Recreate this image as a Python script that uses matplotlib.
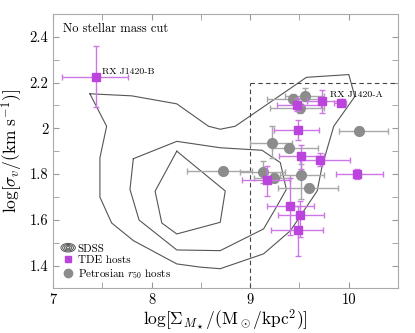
import numpy as np
import matplotlib
matplotlib.use("Agg")
import matplotlib.pyplot as plt
from matplotlib.legend_handler import HandlerBase
from matplotlib.patches import Ellipse
from matplotlib.lines import Line2D

plt.rcParams['font.family'] = 'serif'
plt.rcParams['font.serif'] = ['cmr10', 'DejaVu Serif']
plt.rcParams['mathtext.fontset'] = 'cm'
plt.rcParams['axes.unicode_minus'] = False
plt.rcParams['axes.formatter.use_mathtext'] = True

# SDSS contours (traced levels), log Sigma vs log sigma
outer_x = [7.373, 7.798, 8.255, 8.577, 8.696, 8.848, 9.571, 10.001, 10.062, 9.848, 9.730, 9.680,
           9.408, 9.136, 8.696, 8.492, 8.255, 7.814, 7.594, 7.475, 7.475, 7.543, 7.373]
outer_y = [2.151, 2.142, 2.107, 2.009, 1.996, 2.009, 2.223, 2.235, 2.139, 2.009, 1.835, 1.726,
           1.552, 1.451, 1.386, 1.393, 1.407, 1.509, 1.586, 1.699, 1.871, 2.009, 2.151]
mid_x = [7.814, 8.255, 8.696, 9.120, 9.306, 9.367, 9.273, 9.136, 8.696, 8.255, 7.872, 7.780, 7.814]
mid_y = [1.867, 1.943, 1.915, 1.904, 1.850, 1.733, 1.661, 1.560, 1.465, 1.468, 1.599, 1.733, 1.867]
inner_x = [8.255, 8.747, 8.696, 8.255, 8.103, 8.035, 8.255]
inner_y = [1.900, 1.726, 1.589, 1.538, 1.586, 1.725, 1.900]

# TDE hosts
tde_x = [7.44, 9.917, 9.73, 9.476, 9.482, 9.52, 9.706, 10.086, 9.171, 9.408, 9.51, 9.482]
tde_y = [2.226, 2.112, 2.12, 2.104, 1.991, 1.878, 1.86, 1.799, 1.773, 1.661, 1.62, 1.555]
tde_xlo = [0.345, 0.07, 0.15, 0.20, 0.244, 0.231, 0.196, 0.22, 0.254, 0.237, 0.231, 0.271]
tde_xhi = [0.322, 0.06, 0.20, 0.24, 0.214, 0.227, 0.308, 0.265, 0.237, 0.237, 0.244, 0.259]
tde_ylo = [0.133, 0.01, 0.055, 0.03, 0.04, 0.058, 0.024, 0.022, 0.069, 0.128, 0.097, 0.112]
tde_yhi = [0.134, 0.01, 0.047, 0.03, 0.047, 0.051, 0.03, 0.024, 0.062, 0.123, 0.063, 0.106]

# Petrosian r50 hosts
pet_x = [9.435, 9.553, 9.51, 10.103, 9.222, 9.398, 9.13, 9.245, 9.52, 9.594, 8.729]
pet_y = [2.130, 2.141, 2.087, 1.99, 1.937, 1.916, 1.809, 1.784, 1.794, 1.741, 1.813]
pet_xlo = [0.264, 0.20, 0.306, 0.197, 0.221, 0.176, 0.231, 0.21, 0.214, 0.315, 0.372]
pet_xhi = [0.261, 0.20, 0.237, 0.298, 0.203, 0.288, 0.227, 0.163, 0.234, 0.295, 0.289]
pet_ylo = [0.02, 0.02, 0.02, 0.015, 0.066, 0.015, 0.046, 0.02, 0.101, 0.015, 0.01]
pet_yhi = [0.02, 0.036, 0.02, 0.015, 0.072, 0.015, 0.048, 0.02, 0.048, 0.015, 0.01]


class ContourHandle(object):
    pass


class HandlerContour(HandlerBase):
    def create_artists(self, legend, orig_handle, xdescent, ydescent,
                       width, height, fontsize, trans):
        cx = width / 2 - xdescent
        cy = height / 2 - ydescent
        arts = []
        for f in [1.0, 0.75, 0.5, 0.25]:
            e = Ellipse((cx, cy), width * f, height * 1.1 * f, fill=False,
                        edgecolor='#555555', lw=0.7, transform=trans)
            arts.append(e)
        return arts


fig = plt.figure(figsize=(4.15, 3.33), dpi=100)
ax = fig.add_axes([0.128, 0.134, 0.831, 0.824])

for cx, cy in [(outer_x, outer_y), (mid_x, mid_y), (inner_x, inner_y)]:
    ax.plot(cx, cy, color='#555555', lw=0.8)

ax.plot([9, 9], [1.3, 2.2], ls='--', color='#444444', lw=0.8, dashes=(4, 3))
ax.plot([9, 10.5], [2.2, 2.2], ls='--', color='#444444', lw=0.8, dashes=(4, 3))

ax.errorbar(pet_x, pet_y, xerr=[pet_xlo, pet_xhi], yerr=[pet_ylo, pet_yhi], fmt='o',
            color='#8c8c8c', ecolor='#a8a8a8', ms=7, elinewidth=1.0, capsize=2, zorder=3)
ax.errorbar(tde_x, tde_y, xerr=[tde_xlo, tde_xhi], yerr=[tde_ylo, tde_yhi], fmt='s',
            color='#bb44dd', ecolor='#cc77e6', ms=6, elinewidth=1.0, capsize=2, zorder=4)

ax.text(7.50, 2.245, 'RX J1420-B', fontsize=7, va='center')
ax.text(9.815, 2.146, 'RX J1420-A', fontsize=7, va='center')
ax.text(0.03, 0.968, 'No stellar mass cut', transform=ax.transAxes, fontsize=9, va='top')

ax.set_xlim(7, 10.5)
ax.set_ylim(1.3, 2.5)
ax.set_xticks([7, 8, 9, 10])
ax.set_xticks(np.arange(7, 10.6, 0.5), minor=True)
ax.set_yticks([1.4, 1.6, 1.8, 2.0, 2.2, 2.4])
ax.set_yticklabels(['1.4', '1.6', '1.8', '2', '2.2', '2.4'])
ax.set_yticks(np.arange(1.3, 2.51, 0.1), minor=True)
ax.set_xticklabels(['7', '8', '9', '10'])
ax.tick_params(which='both', direction='in', top=True, right=True, color='#999999',
               labelsize=10.5, length=4)
for s in ax.spines.values():
    s.set_color('#aaaaaa')

ax.set_xlabel(r'$\log[\Sigma_{M_\star}/(\mathrm{M_\odot/kpc^2})]$', fontsize=12.5, labelpad=1)
ax.set_ylabel(r'$\log[\sigma_v/(\mathrm{km\ s^{-1}})]$', fontsize=12.5, labelpad=3)

h1 = ContourHandle()
h2 = Line2D([], [], ls='none', marker='s', color='#bb44dd', ms=5)
h3 = Line2D([], [], ls='none', marker='o', color='#8c8c8c', ms=6)
ax.legend([h1, h2, h3], ['SDSS', 'TDE hosts', r'Petrosian $r_{50}$ hosts'],
          handler_map={ContourHandle: HandlerContour()}, loc='lower left',
          frameon=False, fontsize=8, handlelength=1.3, handletextpad=0.2,
          labelspacing=0.15, borderaxespad=0.3)

fig.savefig('out.png', dpi=100)
